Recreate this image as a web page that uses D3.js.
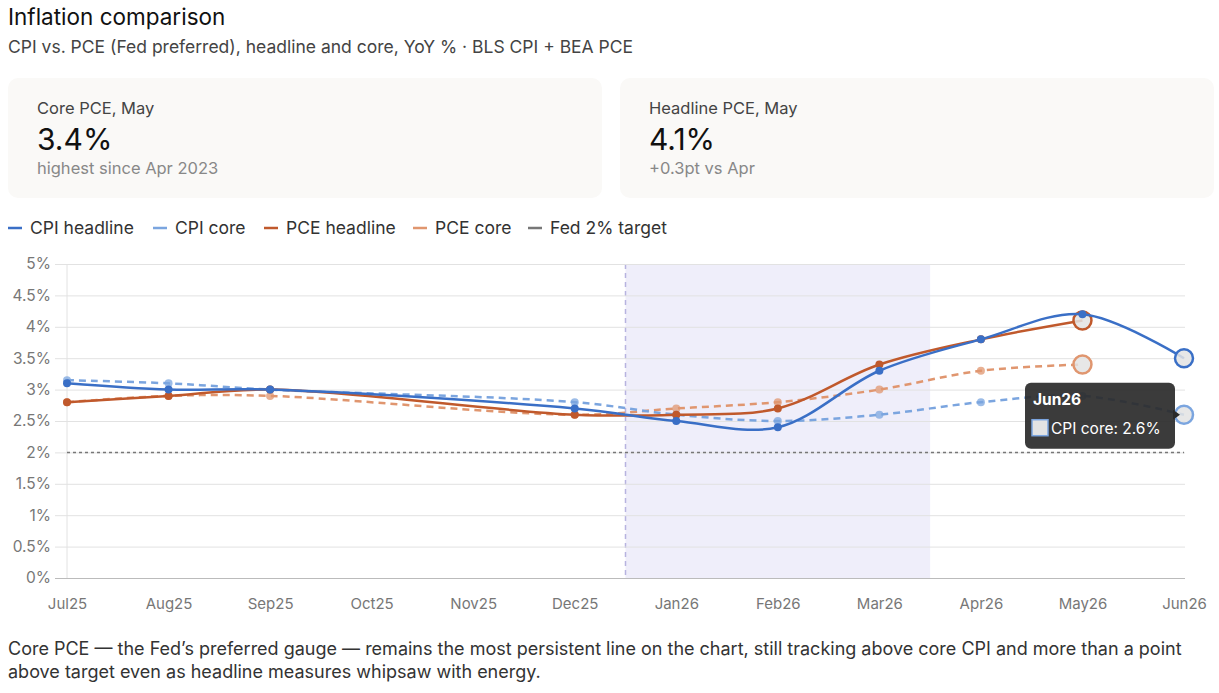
<!DOCTYPE html>
<html>
<head>
<meta charset="utf-8">
<script src="https://cdn.jsdelivr.net/npm/d3@7"></script>
<style>
  body { margin: 0; background: #fff; font-family: Inter, "Noto Sans", sans-serif; }
  svg text { font-family: Inter, "Noto Sans", sans-serif; }
</style>
</head>
<body>
<script>
'use strict';

// months on the x axis
const months = ["Jul25", "Aug25", "Sep25", "Oct25", "Nov25", "Dec25", "Jan26", "Feb26", "Mar26", "Apr26", "May26", "Jun26"];
// YoY %, null = no reading
const cpiHeadline = [3.1, 3.0, 3.0, null, null, 2.7, 2.5, 2.4, 3.3, 3.8, 4.2, 3.5];
const cpiCore     = [3.15, 3.1, 3.0, null, null, 2.8, 2.6, 2.5, 2.6, 2.8, 2.9, 2.6];
const pceHeadline = [2.8, 2.9, 3.0, null, null, 2.6, 2.6, 2.7, 3.4, 3.8, 4.1, null];
const pceCore     = [2.8, 2.9, 2.9, null, null, 2.6, 2.7, 2.8, 3.0, 3.3, 3.4, null];
const fedTarget = 2;
const yTicks = [0, 0.5, 1, 1.5, 2, 2.5, 3, 3.5, 4, 4.5, 5];
const bandFrom = "Dec25", bandTo = "Mar26";

(function() {
  const W = 1219, H = 693;
  const svg = d3.select("body").append("svg").attr("width", W).attr("height", H);

  // header
  svg.append("text").attr("x", 8).attr("y", 25).style("font-size", "22.5px").attr("fill", "#111").text("Inflation comparison");
  svg.append("text").attr("x", 8).attr("y", 53).style("font-size", "17.5px").attr("fill", "#444")
    .text("CPI vs. PCE (Fed preferred), headline and core, YoY % \u00b7 BLS CPI + BEA PCE");

  // stat cards
  let last = (arr) => arr.filter((v) => v != null).slice(-1)[0];
  let prev = (arr) => arr.filter((v) => v != null).slice(-2)[0];
  let cards = [
    {x: 8, label: "Core PCE, May", value: last(pceCore) + "%", note: "highest since Apr 2023"},
    {x: 620, label: "Headline PCE, May", value: last(pceHeadline) + "%",
     note: "+" + (last(pceHeadline) - prev(pceHeadline)).toFixed(1) + "pt vs Apr"}
  ];
  let cg = svg.selectAll(".card").data(cards).enter().append("g").attr("class", "card")
    .attr("transform", (d) => "translate(" + d.x + ",78)");
  cg.append("rect").attr("width", 594).attr("height", 120).attr("rx", 10).attr("fill", "#faf9f7");
  cg.append("text").attr("x", 29).attr("y", 36).style("font-size", "16.5px").attr("fill", "#444").text((d) => d.label);
  cg.append("text").attr("x", 29).attr("y", 72).style("font-size", "30px").attr("fill", "#111").text((d) => d.value);
  cg.append("text").attr("x", 29).attr("y", 96).style("font-size", "16.5px").attr("fill", "#888").text((d) => d.note);

  // series definitions
  let series = [
    {name: "CPI headline", values: cpiHeadline, color: "#3a6fc6", dash: null, width: 2.5, lx: 8},
    {name: "CPI core", values: cpiCore, color: "#7ba5df", dash: "7,5", width: 2.5, lx: 153},
    {name: "PCE headline", values: pceHeadline, color: "#c0592c", dash: null, width: 2.5, lx: 264},
    {name: "PCE core", values: pceCore, color: "#e0966f", dash: "7,5", width: 2.5, lx: 413}
  ];

  // legend
  let legend = series.map((s) => ({name: s.name, color: s.color, x: s.lx}))
    .concat([{name: "Fed 2% target", color: "#777", x: 528}]);
  let lg = svg.selectAll(".leg").data(legend).enter().append("g").attr("class", "leg")
    .attr("transform", (d) => "translate(" + d.x + ",228)");
  lg.append("line").attr("x1", 0).attr("x2", 14).attr("stroke", (d) => d.color).attr("stroke-width", 2.5);
  lg.append("text").attr("x", 22).attr("y", 6).style("font-size", "17.5px").attr("fill", "#333").text((d) => d.name);

  // scales
  let x = d3.scalePoint().domain(months).range([67, 1184]);
  let y = d3.scaleLinear().domain([0, 5]).range([578, 264]);
  let step = x.step();

  // highlighted band
  svg.append("rect")
    .attr("x", x(bandFrom) + step / 2).attr("y", y(5))
    .attr("width", x(bandTo) - x(bandFrom)).attr("height", y(0) - y(5))
    .attr("fill", "#efeefa");
  svg.append("line")
    .attr("x1", x(bandFrom) + step / 2).attr("x2", x(bandFrom) + step / 2)
    .attr("y1", y(5)).attr("y2", y(0))
    .attr("stroke", "#b7b3e0").attr("stroke-width", 1.5).attr("stroke-dasharray", "5,4");

  // grid + y axis
  let yAxis = d3.axisLeft(y).tickValues(yTicks).tickSize(-(1185 - 55)).tickFormat((d) => d + "%");
  let ga = svg.append("g").attr("transform", "translate(55,0)").call(yAxis);
  ga.select(".domain").remove();
  ga.selectAll(".tick line").attr("stroke", (d) => d === 0 ? "#bbb" : "#e2e2e2");
  ga.selectAll(".tick text").attr("x", -4).style("font-size", "15.5px").attr("fill", "#777");

  svg.append("line").attr("x1", x(months[0])).attr("x2", x(months[0]))
    .attr("y1", y(5)).attr("y2", y(0)).attr("stroke", "#e2e2e2");

  // x axis labels
  let xAxis = d3.axisBottom(x).tickSize(0).tickPadding(20);
  let gx = svg.append("g").attr("transform", "translate(0," + y(0) + ")").call(xAxis);
  gx.select(".domain").remove();
  gx.selectAll(".tick text").style("font-size", "15px").attr("fill", "#777");

  // fed target
  svg.append("line").attr("x1", 67).attr("x2", 1184)
    .attr("y1", y(fedTarget)).attr("y2", y(fedTarget))
    .attr("stroke", "#777").attr("stroke-width", 1.5).attr("stroke-dasharray", "3,3");

  // lines
  let line = d3.line().x((d) => x(d.m)).y((d) => y(d.v)).curve(d3.curveCatmullRom.alpha(0.5));
  series.forEach((s) => {
    s.pts = months.map((m, i) => ({m: m, v: s.values[i]})).filter((d) => d.v != null);
  });
  // draw core first, headline on top
  [series[3], series[1], series[2], series[0]].forEach((s) => {
    svg.append("path").datum(s.pts)
      .attr("fill", "none").attr("stroke", s.color).attr("stroke-width", s.width)
      .attr("stroke-dasharray", s.dash).attr("stroke-linejoin", "round")
      .attr("d", line);
    svg.selectAll(null).data(s.pts.slice(0, -1)).enter().append("circle")
      .attr("cx", (d) => x(d.m)).attr("cy", (d) => y(d.v)).attr("r", 4)
      .attr("fill", s.color).attr("fill-opacity", s.dash ? 0.75 : 1);
    let lp = s.pts[s.pts.length - 1];
    svg.append("circle").attr("cx", x(lp.m)).attr("cy", y(lp.v)).attr("r", 9)
      .attr("fill", "#e3e3e3").attr("fill-opacity", 0.85)
      .attr("stroke", s.color).attr("stroke-width", 2.5);
  });

  // tooltip on last CPI core point
  let tipM = months[months.length - 1];
  let tipV = last(cpiCore);
  let tx = x(tipM) - 159, ty = y(tipV) - 32;
  let tip = svg.append("g").attr("transform", "translate(" + tx + "," + ty + ")");
  tip.append("path").attr("d", "M148,27 L155,32 L148,37 Z").attr("fill", "#2a2a2a");
  tip.append("rect").attr("width", 150).attr("height", 66).attr("rx", 6)
    .attr("fill", "#2a2a2a").attr("fill-opacity", 0.92);
  tip.append("text").attr("x", 8).attr("y", 22).style("font-size", "15.5px").style("font-weight", "bold")
    .attr("fill", "#fff").text(tipM);
  tip.append("rect").attr("x", 7).attr("y", 37).attr("width", 16).attr("height", 16)
    .attr("fill", "#e3e3e3").attr("stroke", "#7ba5df").attr("stroke-width", 1.5);
  tip.append("text").attr("x", 26).attr("y", 51).style("font-size", "15.5px")
    .attr("fill", "#fff").text("CPI core: " + tipV + "%");

  // footnote
  svg.append("text").attr("x", 8).attr("y", 655).style("font-size", "18px").attr("fill", "#333")
    .text("Core PCE \u2014 the Fed\u2019s preferred gauge \u2014 remains the most persistent line on the chart, still tracking above core CPI and more than a point");
  svg.append("text").attr("x", 8).attr("y", 678).style("font-size", "18px").attr("fill", "#333")
    .text("above target even as headline measures whipsaw with energy.");
})();
</script>
</body>
</html>
